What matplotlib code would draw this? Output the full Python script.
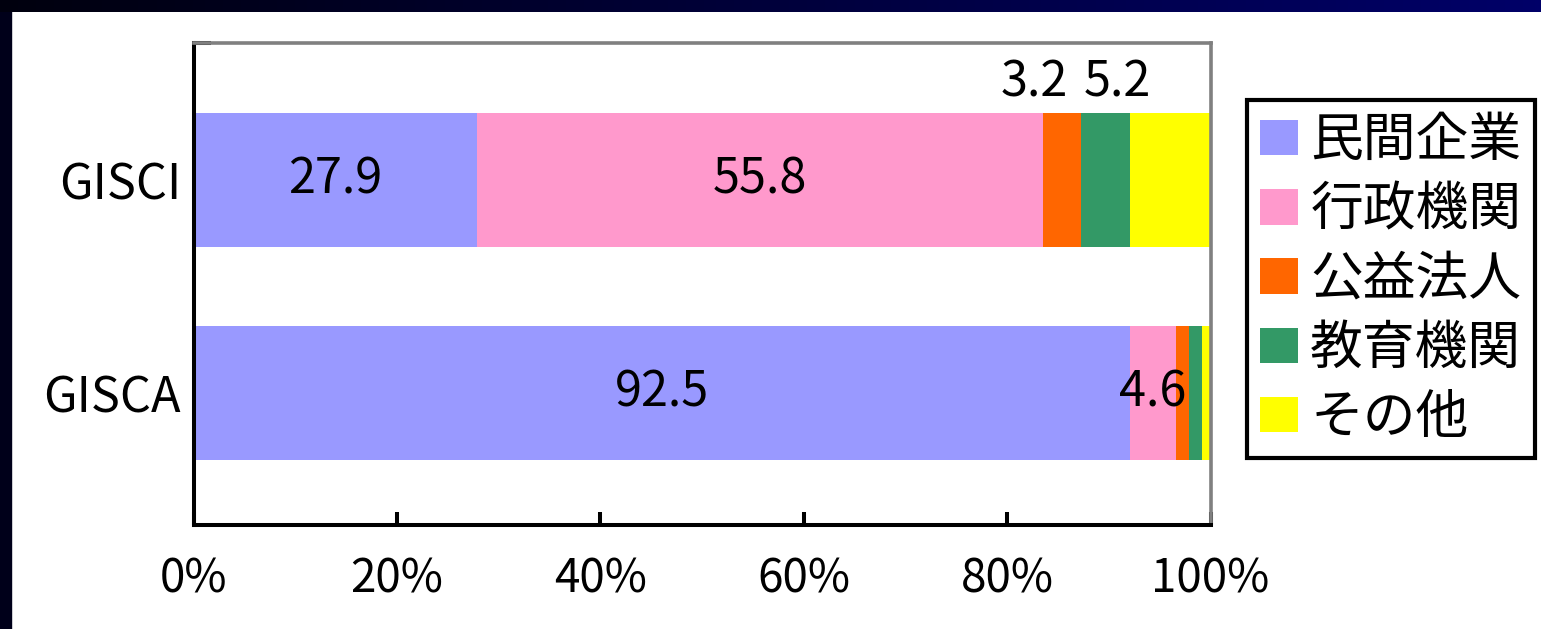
import matplotlib
matplotlib.use("Agg")
import matplotlib.pyplot as plt
import numpy as np
from matplotlib.colors import LinearSegmentedColormap
from matplotlib.patches import Rectangle

plt.rcParams['font.family'] = ['Noto Sans CJK JP', 'DejaVu Sans']

# donnees
groupes = ["GISCA", "GISCI"]          # de bas en haut
series = ["民間企業", "行政機関", "公益法人", "教育機関", "その他"]
couleurs = ["#9999FF", "#FF99CC", "#FF6600", "#339966", "#FFFF00"]
valeurs_gisca = [92.5, 4.6, 1.3, 1.3, 0.8]
valeurs_gisci = [27.9, 55.8, 3.7, 4.9, 7.9]
etiquettes_gisca = ["92.5", "4.6", "", "", ""]
etiquettes_gisci = ["27.9", "55.8", "3.2", "5.2", ""]
graduations = [0, 20, 40, 60, 80, 100]

valeurs = np.array([valeurs_gisca, valeurs_gisci], dtype=float)
pourcents = valeurs / valeurs.sum(axis=1, keepdims=True) * 100
etiquettes = [etiquettes_gisca, etiquettes_gisci]

fig = plt.figure(figsize=(15.41, 6.29), dpi=100, facecolor="white")

# bandeau bleu nuit (fond de diapo)
bandeau = fig.add_axes([0, 1 - 12 / 629, 1, 12 / 629])
degrade = LinearSegmentedColormap.from_list("nuit", ["#00000e", "#000068"])
bandeau.imshow(np.linspace(0, 1, 256)[None, :], aspect="auto", cmap=degrade)
bandeau.set_axis_off()
fig.add_artist(Rectangle((0, 0), 11 / 1541, 1, transform=fig.transFigure,
                         color="#00001a", zorder=0))

ax = fig.add_axes([193.5 / 1541, 1 - 524.5 / 629, 1017 / 1541, 481.5 / 629])
y = np.arange(len(groupes))
hauteur = 0.628
gauche = np.zeros(len(groupes))
barres = []
for k, nom in enumerate(series):
    b = ax.barh(y, pourcents[:, k], left=gauche, height=hauteur,
                color=couleurs[k], label=nom, linewidth=0)
    barres.append(b)
    gauche += pourcents[:, k]

# etiquettes de donnees
decalages = {"3.2": (-19.5, 22), "5.2": (8.5, 22)}
for i in range(len(groupes)):
    debut = 0
    for k in range(len(series)):
        w = pourcents[i, k]
        txt = etiquettes[i][k]
        centre = debut + w / 2
        if txt in decalages:
            ax.annotate(txt, xy=(centre, y[i] + hauteur / 2),
                        xytext=decalages[txt], textcoords="offset points",
                        ha="center", va="center", fontsize=35)
        elif txt:
            ax.text(centre, y[i], txt, ha="center", va="center", fontsize=35)
        debut += w

ax.set_xlim(0, 100)
ax.set_ylim(-0.617, 1.642)
ax.set_xticks(graduations)
ax.set_xticklabels([f"{g}%" for g in graduations], fontsize=33)
ax.set_yticks(y)
ax.set_yticklabels(groupes, fontsize=35)
ax.set_yticks([1.642], minor=True)
ax.tick_params(axis="x", direction="in", length=9.5, width=2.9, pad=22)
ax.tick_params(axis="y", which="major", length=0, pad=9)
ax.tick_params(axis="y", which="minor", direction="in", length=12, width=2.9)

for cote in ["left", "bottom"]:
    ax.spines[cote].set_color("black")
    ax.spines[cote].set_linewidth(2.9)
for cote in ["top", "right"]:
    ax.spines[cote].set_color("#808080")
    ax.spines[cote].set_linewidth(2.6)

leg = ax.legend(handles=barres, loc="upper left",
                bbox_to_anchor=(1247 / 1541, 1 - 100 / 629),
                bbox_transform=fig.transFigure, borderaxespad=0,
                fontsize=38, frameon=True, fancybox=False, shadow=False,
                handlelength=0.72, handleheight=0.66, handletextpad=0.23,
                labelspacing=0.27, borderpad=0.25)
leg.get_frame().set_edgecolor("black")
leg.get_frame().set_linewidth(3)
leg.get_frame().set_alpha(1)

fig.savefig("out.png", dpi=100, facecolor="white")
